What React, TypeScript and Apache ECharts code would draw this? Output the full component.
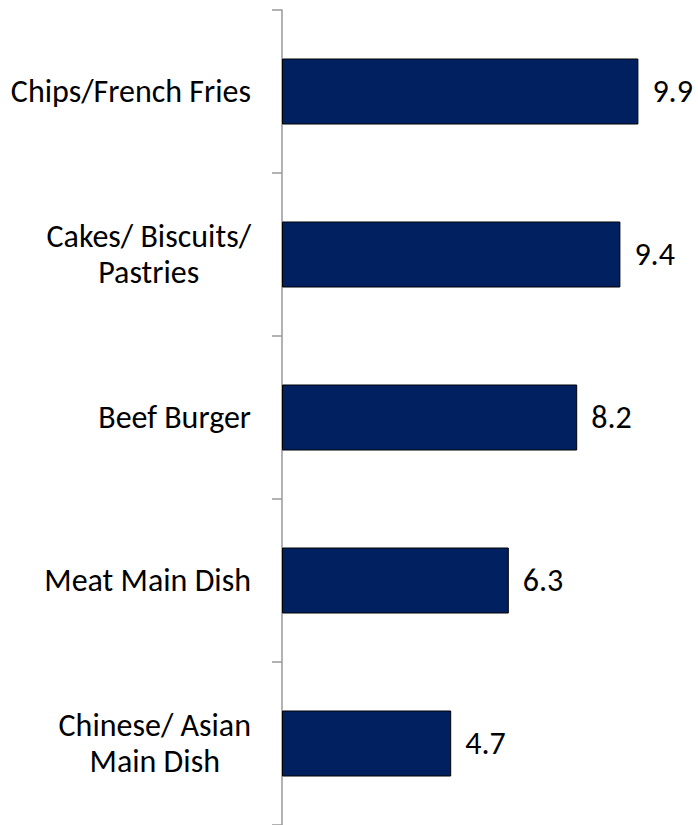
import React, { useEffect, useRef } from "react";
import * as echarts from "echarts";

const categories = [
  "Chips/French Fries",
  "Cakes/ Biscuits/\nPastries",
  "Beef Burger",
  "Meat Main Dish",
  "Chinese/ Asian\nMain Dish",
];
const values = [9.9, 9.4, 8.2, 6.3, 4.7];

const FONT = "Carlito, Lato, 'Open Sans', sans-serif";

export default function App() {
  const ref = useRef<HTMLDivElement>(null);
  useEffect(() => {
    if (!ref.current) return;
    const chart = echarts.init(ref.current, undefined, { renderer: "svg" });
    chart.setOption({
      animation: false,
      backgroundColor: "#ffffff",
      grid: { left: 282, right: 56, top: 10, bottom: -2, containLabel: false },
      xAxis: {
        type: "value",
        min: 0,
        max: 10,
        show: false,
      },
      yAxis: {
        type: "category",
        inverse: true,
        data: categories,
        axisLine: { show: true, lineStyle: { color: "#999999", width: 1.5 } },
        axisTick: { show: true, length: 10, lineStyle: { color: "#999999", width: 1.5 } },
        axisLabel: {
          margin: 31,
          align: "right",
          formatter: (v: string) => `{c|${v}}`,
          rich: {
            c: {
              align: "center",
              fontSize: 32,
              lineHeight: 36,
              color: "#000000",
              fontFamily: FONT,
            },
          },
        },
        splitLine: { show: false },
      },
      series: [
        {
          type: "bar",
          data: values,
          barWidth: 66,
          itemStyle: { color: "#002060", borderColor: "#000000", borderWidth: 1 },
          label: {
            show: true,
            position: "right",
            distance: 14,
            fontSize: 32,
            color: "#000000",
            fontFamily: FONT,
            formatter: (p: any) => p.value.toFixed(1),
          },
        },
      ],
    });
    return () => chart.dispose();
  }, []);
  return (
    <div
      ref={ref}
      style={{ position: "absolute", left: 0, top: 0, width: 698, height: 825, background: "#fff" }}
    />
  );
}
